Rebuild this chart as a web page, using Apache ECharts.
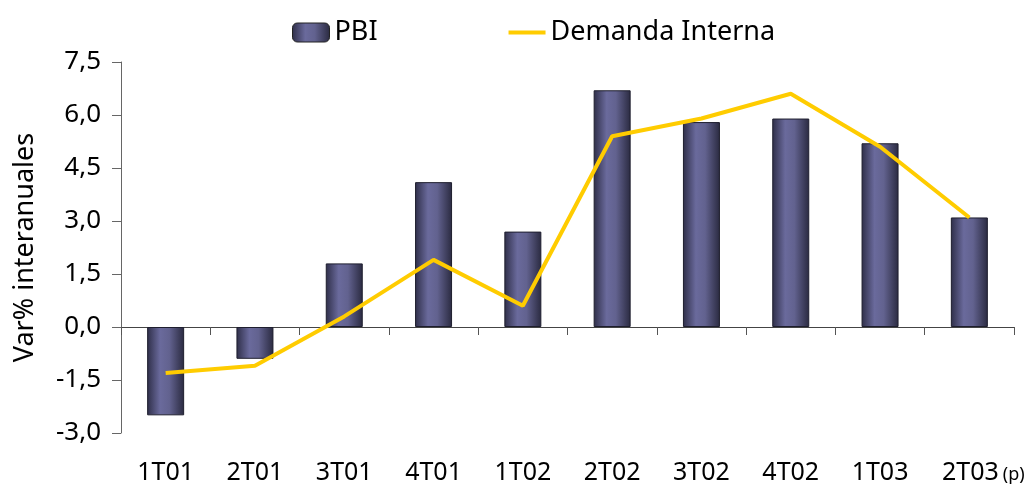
<!DOCTYPE html>
<html>
<head>
<meta charset="utf-8">
<script src="https://cdn.jsdelivr.net/npm/echarts@6/dist/echarts.min.js"></script>
<style>html,body{margin:0;padding:0;background:#fff}#c{width:1031px;height:494px}</style>
</head>
<body>
<div id="c"></div>
<script>
const categories = ['1T01','2T01','3T01','4T01','1T02','2T02','3T02','4T02','1T03','2T03'];
const pbi = [-2.5, -0.9, 1.8, 4.1, 2.7, 6.7, 5.8, 5.9, 5.2, 3.1];
const demanda = [-1.3, -1.1, 0.3, 1.9, 0.6, 5.4, 5.9, 6.6, 5.1, 3.1];
const yTicks = { min: -3, max: 7.5, step: 1.5 };
const lastNote = '(p)';

const FONT = 'Noto Sans';
const chart = echarts.init(document.getElementById('c'), null, { renderer: 'canvas' });
const barGrad = new echarts.graphic.LinearGradient(0, 0, 1, 0, [
  { offset: 0, color: '#2e2e48' },
  { offset: 0.35, color: '#6a6a9c' },
  { offset: 0.6, color: '#62628f' },
  { offset: 1, color: '#2a2a40' }
]);
chart.setOption({
  animation: false,
  backgroundColor: '#fff',
  textStyle: { fontFamily: FONT },
  legend: {
    top: 14,
    left: 287,
    itemGap: 131,
    itemWidth: 37,
    itemHeight: 19,
    textStyle: { fontSize: 27, color: '#000', fontFamily: FONT },
    data: [
      { name: 'PBI', itemStyle: { color: barGrad, borderColor: '#222', borderWidth: 1 } },
      { name: 'Demanda Interna', icon: 'path://M0,0 L36,0 L36,4 L0,4 Z', itemStyle: { color: '#FFCC00', borderWidth: 0 } }
    ]
  },
  grid: { left: 121, right: 17, top: 62, bottom: 61, containLabel: false },
  xAxis: [
    {
      type: 'category',
      data: categories,
      position: 'bottom',
      axisLine: { show: false, onZero: false },
      axisTick: { show: false },
      axisLabel: {
        interval: 0,
        margin: 27,
        fontSize: 25,
        color: '#000',
        fontFamily: FONT,
        formatter: function (v, i) {
          if (i === categories.length - 1) return '{sp|}{a|' + v + '}{b|' + lastNote + '}';
          return v;
        },
        rich: {
          sp: { width: 28, fontSize: 25 },
          a: { fontSize: 25, color: '#000', fontFamily: FONT },
          b: { fontSize: 18, color: '#000', fontFamily: FONT, padding: [5, 0, 0, 4] }
        }
      }
    },
    {
      type: 'category',
      data: categories,
      position: 'bottom',
      axisLine: { show: true, onZero: true, lineStyle: { color: '#444', width: 1 } },
      axisTick: { show: true, interval: 0, length: 8, alignWithLabel: false, lineStyle: { color: '#555' } },
      axisLabel: { show: false }
    }
  ],
  yAxis: {
    type: 'value',
    min: yTicks.min,
    max: yTicks.max,
    interval: yTicks.step,
    name: 'Var% interanuales',
    nameLocation: 'middle',
    nameGap: 82,
    nameTextStyle: { fontSize: 27, color: '#000', fontFamily: FONT },
    axisLine: { show: true, lineStyle: { color: '#666' } },
    axisTick: { show: true, length: 9, lineStyle: { color: '#666' } },
    splitLine: { show: false },
    axisLabel: {
      margin: 20,
      fontSize: 26,
      color: '#000',
      fontFamily: FONT,
      formatter: v => v.toFixed(1).replace('.', ',')
    }
  },
  series: [
    {
      name: 'PBI',
      type: 'bar',
      xAxisIndex: 0,
      data: pbi,
      barWidth: 37,
      itemStyle: { color: barGrad, borderColor: '#1e1e2e', borderWidth: 1 }
    },
    {
      name: 'Demanda Interna',
      type: 'line',
      xAxisIndex: 0,
      data: demanda,
      symbol: 'none',
      lineStyle: { color: '#FFCC00', width: 4 },
      itemStyle: { color: '#FFCC00' }
    }
  ]
});
</script>
</body>
</html>
